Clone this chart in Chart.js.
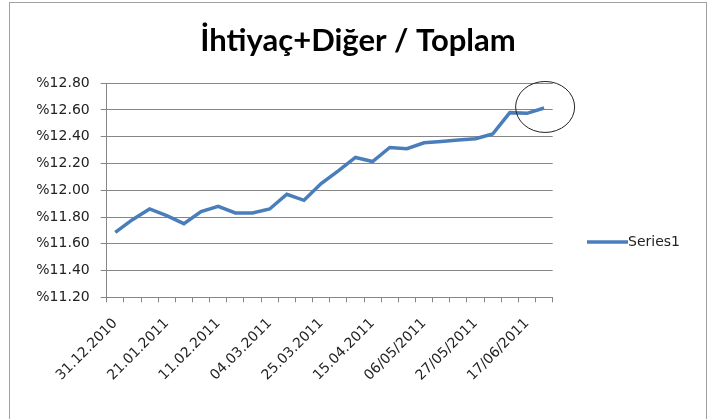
<!DOCTYPE html>
<html>
<head>
<meta charset="utf-8">
<script src="https://cdn.jsdelivr.net/npm/chart.js@4/dist/chart.umd.min.js"></script>
<style>
  body { margin: 0; background: #fff; }
  #kutu { position: absolute; left: 9px; top: 2px; width: 696px; height: 416px; border: 1px solid #a0a0a0; }
</style>
</head>
<body>
<div id="kutu"><canvas id="grafik" width="696" height="416"></canvas></div>
<script>
// veriler (haftalik)
const tarihler = [
  '31.12.2010', '07.01.2011', '14.01.2011', '21.01.2011', '28.01.2011', '04.02.2011',
  '11.02.2011', '18.02.2011', '25.02.2011', '04.03.2011', '11.03.2011', '18.03.2011',
  '25.03.2011', '01.04.2011', '08.04.2011', '15.04.2011', '22.04.2011', '29.04.2011',
  '06/05/2011', '13/05/2011', '20/05/2011', '27/05/2011', '03/06/2011', '10/06/2011',
  '17/06/2011', '24/06/2011'
];
const oranlar = [
  11.685, 11.78, 11.86, 11.81, 11.75, 11.84,
  11.88, 11.83, 11.83, 11.86, 11.97, 11.925,
  12.05, 12.145, 12.245, 12.215, 12.32, 12.31,
  12.355, 12.365, 12.375, 12.385, 12.42, 12.58,
  12.575, 12.615
];
const yEksen = { min: 11.2, max: 12.8, adim: 0.2 };
const seriAdi = 'Series1';
const baslik = 'İhtiyaç+Diğer / Toplam';

const mavi = '#4a7ebb';
const gri = '#868686';
const yaziFont = { family: 'DejaVu Sans', size: 14 };

// sag taraftaki legend + son noktadaki daire
const ekler = {
  id: 'ekler',
  afterDraw(chart) {
    const c = chart.ctx;
    const x = chart.scales.x, y = chart.scales.y;
    const son = oranlar.length - 1;
    const cx = x.getPixelForValue(son) + 1;
    const cy = y.getPixelForValue(oranlar[son]) - 1;
    c.save();
    c.beginPath();
    c.ellipse(cx, cy, 29.5, 25.5, 0, 0, Math.PI * 2);
    c.strokeStyle = '#222';
    c.lineWidth = 1;
    c.stroke();

    // legend
    const lx = 577, ly = 239;
    c.beginPath();
    c.moveTo(lx, ly);
    c.lineTo(lx + 41, ly);
    c.strokeStyle = mavi;
    c.lineWidth = 3.5;
    c.stroke();
    c.fillStyle = '#222';
    c.font = '14px "DejaVu Sans"';
    c.textBaseline = 'middle';
    c.fillText(chart.data.datasets[0].label, lx + 41, ly);
    c.restore();
  }
};

const grafik = new Chart(document.getElementById('grafik'), {
  type: 'line',
  data: {
    labels: tarihler,
    datasets: [{
      label: seriAdi,
      data: oranlar,
      yAxisID: 'y',
      borderColor: mavi,
      borderWidth: 3.5,
      pointRadius: 0,
      tension: 0,
      fill: false
    }]
  },
  options: {
    responsive: false,
    animation: false,
    layout: { padding: 0 },
    plugins: {
      legend: { display: false },
      tooltip: { enabled: false },
      title: {
        display: true,
        text: baslik,
        color: '#000',
        font: { family: 'Lato', size: 31, weight: 'bold', lineHeight: 1.2 },
        padding: { top: 19, bottom: 24 }
      }
    },
    scales: {
      x: {
        offset: true,
        grid: { offset: true, drawOnChartArea: false, color: gri, tickLength: 5 },
        border: { color: gri },
        ticks: {
          autoSkip: false,
          minRotation: 45,
          maxRotation: 45,
          color: '#222',
          font: yaziFont,
          padding: 13,
          callback: (v, i) => i % 3 === 0 ? tarihler[i] : ''
        },
        afterFit: (s) => { s.height = 121.7; }
      },
      y: {
        min: yEksen.min,
        max: yEksen.max,
        grid: { color: gri, tickLength: 6 },
        border: { color: gri },
        ticks: {
          stepSize: yEksen.adim,
          color: '#222',
          font: yaziFont,
          padding: 11,
          callback: (v) => '%' + Number(v).toFixed(2)
        },
        afterFit: (s) => { s.width = 96.7; }
      },
      // legend icin sagda bos yer
      bos: {
        position: 'right',
        grid: { display: false },
        border: { display: false },
        ticks: { display: false },
        afterFit: (s) => { s.width = 153.3; }
      }
    }
  },
  plugins: [ekler]
});
</script>
</body>
</html>
